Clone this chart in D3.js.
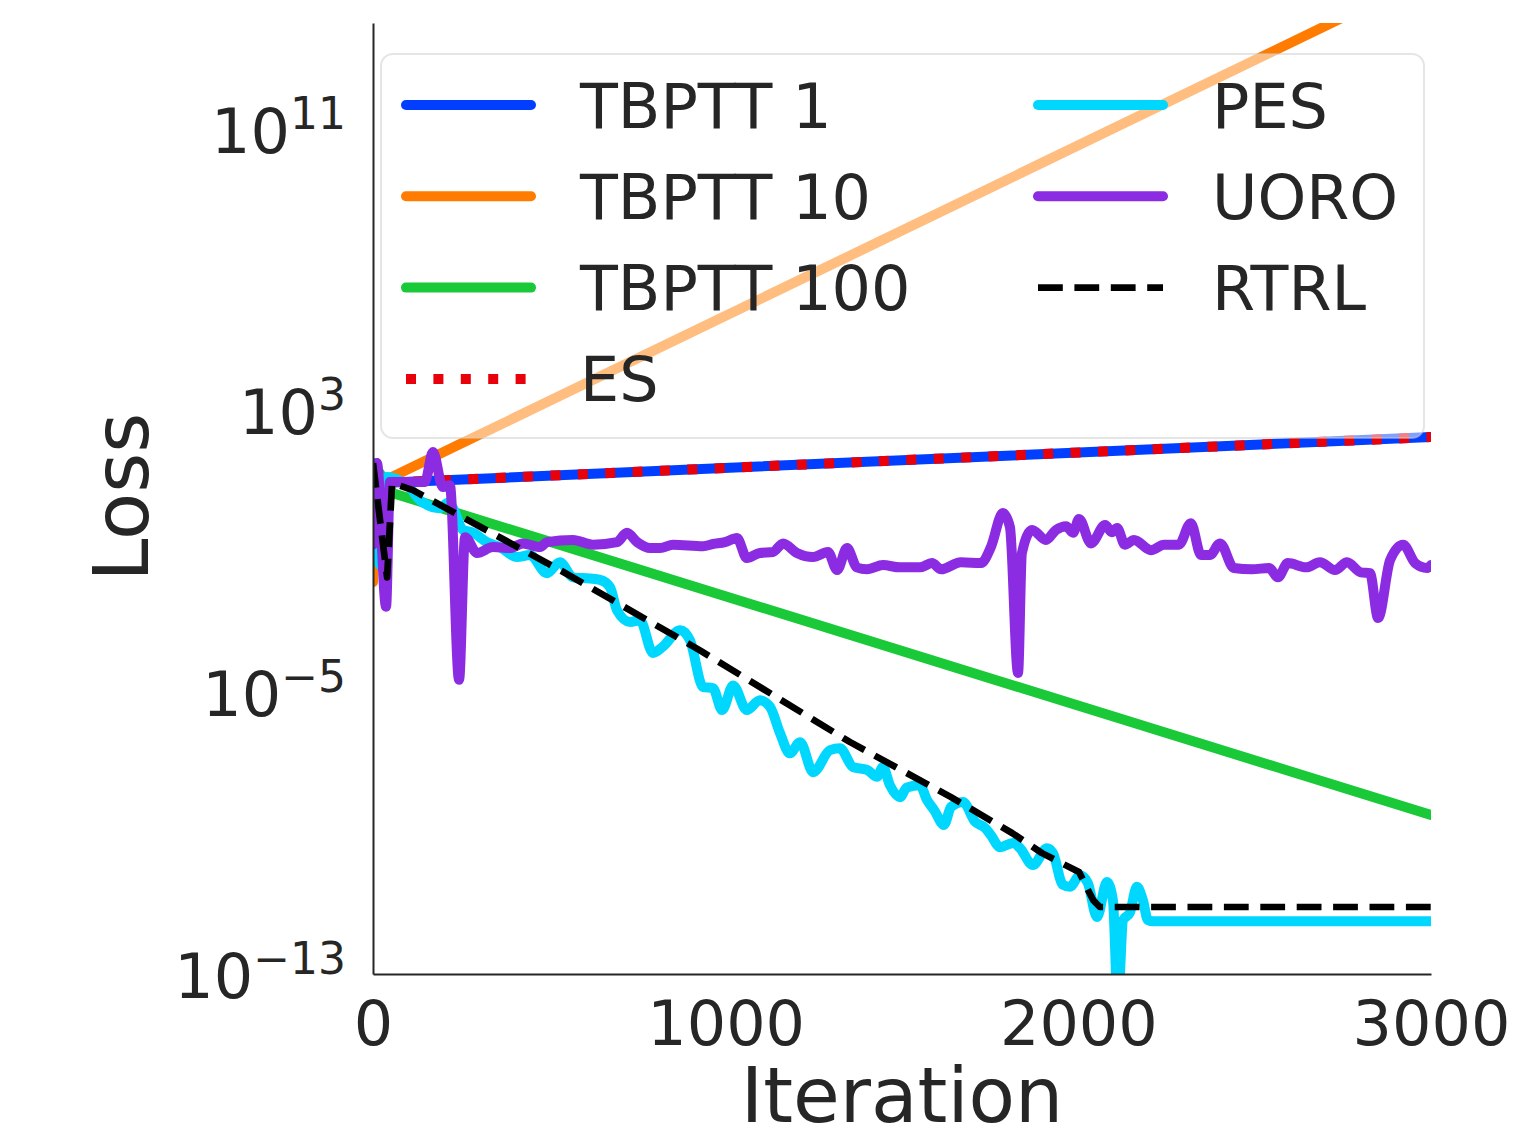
<!DOCTYPE html>
<html><head><meta charset="utf-8">
<script src="https://cdn.jsdelivr.net/npm/d3@7"></script>
<style>body{margin:0;background:#fff}svg{display:block}</style>
</head><body>
<svg id="chart" width="1530" height="1139"></svg>
<script>
// ---------- data: [iteration, loss] ----------
const seriesNames = ["TBPTT 1","TBPTT 10","TBPTT 100","ES","PES","UORO","RTRL"];
const tbptt1 = [[0,23],[20,6.2],[3000,126]];
const tbptt10 = [[0,9.5e-3],[8,23],[20,6.3],[241,74.5],[3000,1.7e15]];
const tbptt100 = [[0,23],[57,3.2],[3000,2.3e-9]];
const es = [[0,23],[20,6.2],[3000,126]];
const pes = [[0,23],[20,2.9e-2],[40,9.2],[57,8.6],[105,4.5],[133,2.0],[190,1.2],[213,1.7],[227,1.2],[255,0.29],[284,0.24],[323,0.13],[360,9.4e-2],[408,4.9e-2],[445,5.6e-2],[493,1.7e-2],[530,3.5e-2],[567,1.3e-2],[615,1.2e-2],[644,1.1e-2],[672,6.9e-3],[692,1.5e-3],[729,7.0e-4],[757,7.9e-4],[794,9.2e-5],[822,1.4e-4],[871,4.1e-4],[899,2.1e-4],[936,9.9e-6],[964,9.3e-6],[990,2.2e-6],[1021,1.1e-5],[1060,2.2e-6],[1097,4.2e-6],[1126,2.7e-6],[1154,4.9e-7],[1182,1.3e-7],[1211,2.7e-7],[1248,3.8e-8],[1296,1.6e-7],[1324,1.8e-7],[1361,5.3e-8],[1401,4.4e-8],[1429,2.8e-8],[1446,5.3e-8],[1466,1.6e-8],[1494,7.4e-9],[1514,1.4e-8],[1551,1.6e-8],[1571,6.1e-9],[1591,3.2e-9],[1619,1.2e-9],[1639,3.9e-9],[1673,5.4e-9],[1707,1.5e-9],[1735,1.0e-9],[1752,6.2e-10],[1778,2.8e-10],[1815,3.7e-10],[1835,2.6e-10],[1871,8.7e-11],[1911,2.6e-10],[1928,1.9e-10],[1956,2.4e-11],[1976,2.1e-11],[2005,4.5e-11],[2027,2.7e-11],[2053,2.9e-12],[2081,2.9e-11],[2098,8.8e-12],[2112,1e-14],[2127,2.4e-12],[2146,3.8e-12],[2166,2.1e-11],[2183,8.8e-12],[2197,2.4e-12],[2212,2.2e-12],[3000,2.2e-12]];
const uoro = [[0,0.11],[11,23],[37,1.9e-3],[48,6.6],[147,6.6],[170,47],[198,4.8],[218,5.4],[244,1.6e-5],[261,0.18],[295,6.4e-2],[340,9.4e-2],[388,8.8e-2],[425,0.12],[474,9.4e-2],[493,0.13],[567,0.15],[624,0.11],[692,0.13],[720,0.24],[749,0.13],[786,8.8e-2],[814,8.8e-2],[851,0.11],[936,0.10],[964,0.115],[998,0.13],[1032,0.17],[1060,4.6e-2],[1097,6.4e-2],[1134,6.8e-2],[1163,0.12],[1202,6.4e-2],[1248,4.9e-2],[1290,6.8e-2],[1316,2.1e-2],[1344,8.8e-2],[1372,2.5e-2],[1401,2.2e-2],[1446,2.9e-2],[1494,2.5e-2],[1551,2.5e-2],[1585,3.3e-2],[1611,2.2e-2],[1667,3.5e-2],[1724,3.3e-2],[1752,9.4e-2],[1786,0.87],[1806,0.35],[1829,2.5e-5],[1840,6.4e-2],[1869,0.29],[1908,0.15],[1937,0.29],[1965,0.37],[1985,0.24],[2002,0.59],[2036,0.12],[2076,0.40],[2095,0.25],[2110,0.33],[2132,0.11],[2158,0.15],[2206,7.7e-2],[2243,0.11],[2285,0.11],[2319,0.45],[2348,5.6e-2],[2373,5.6e-2],[2402,0.12],[2441,2.4e-2],[2492,2.2e-2],[2541,2.4e-2],[2566,1.3e-2],[2594,3.3e-2],[2646,2.5e-2],[2685,3.5e-2],[2728,2.1e-2],[2762,3.5e-2],[2801,1.8e-2],[2827,1.7e-2],[2850,9.1e-4],[2884,4.0e-2],[2921,0.11],[2955,3.3e-2],[2989,2.4e-2],[3000,2.9e-2]];
const rtrl = [[0,23],[40,1.3e-2],[54,6.2],[113,3.9],[530,2.1e-2],[927,1.1e-4],[1353,2.7e-7],[1639,7.4e-9],[1812,7.1e-10],[1897,1.9e-10],[2002,5.5e-11],[2042,8.8e-12],[2061,5.6e-12],[3000,5.6e-12]];
const xTicks = [0,1000,2000,3000];
const yTicks = [1e-13,1e-5,1e3,1e11];
const yTickExponents = ["\u221213","\u22125","3","11"];
const xLabel = "Iteration", yLabel = "Loss";

// ---------- styles ----------
const seriesData = [tbptt1,tbptt10,tbptt100,es,pes,uoro,rtrl];
const styles = [
  {color:"#023eff", width:10, dash:null, curve:d3.curveLinear},
  {color:"#ff7c00", width:10, dash:null, curve:d3.curveLinear},
  {color:"#1ac938", width:10, dash:null, curve:d3.curveLinear},
  {color:"#e8000b", width:10, dash:"10,17.4", curve:d3.curveLinear},
  {color:"#00d7ff", width:10, dash:null, curve:d3.curveMonotoneX},
  {color:"#8b2be2", width:10, dash:null, curve:d3.curveMonotoneX},
  {color:"#000000", width:6.7, dash:"24.8,11.6", curve:d3.curveLinear}
];
const FONT = "DejaVu Sans";
const TXT = "#262626";
const L = 373, R = 1431, T = 23, B = 974;

const svg = d3.select("#chart");
const x = d3.scaleLinear().domain([0,3000]).range([L,R]);
const y = d3.scaleLog().domain([7.0e-14,7.3e13]).range([B,T]);

svg.append("defs").append("clipPath").attr("id","clip")
  .append("rect").attr("x",L).attr("y",T).attr("width",R-L).attr("height",B-T);

const gLines = svg.append("g").attr("clip-path","url(#clip)");
seriesData.forEach((data,i)=>{
  const s = styles[i];
  const line = d3.line().x(d=>x(d[0])).y(d=>y(d[1])).curve(s.curve);
  gLines.append("path").attr("d",line(data)).attr("fill","none")
    .attr("stroke",s.color).attr("stroke-width",s.width)
    .attr("stroke-linecap", s.dash ? "butt" : "round")
    .attr("stroke-linejoin","round")
    .attr("stroke-dasharray", s.dash);
});

// x axis
const gx = svg.append("g").attr("transform",`translate(0,${B})`)
  .call(d3.axisBottom(x).tickValues(xTicks).tickSize(0).tickSizeOuter(0).tickFormat(d3.format("d")))
  .attr("font-family",FONT).attr("font-size",62);
gx.select(".domain").attr("stroke",TXT).attr("stroke-width",2);
gx.selectAll(".tick text").attr("fill",TXT).attr("y",71).attr("dy",null);

// y axis
const gy = svg.append("g").attr("transform",`translate(${L},0)`)
  .call(d3.axisLeft(y).tickValues(yTicks).tickSize(0).tickSizeOuter(0))
  .attr("font-family",FONT).attr("font-size",62);
gy.select(".domain").attr("stroke",TXT).attr("stroke-width",2);
gy.selectAll(".tick text").each(function(d,i){
  const t = d3.select(this);
  t.text(null).attr("x",-27).attr("y",28.5).attr("dy",null)
   .attr("text-anchor","end").attr("fill",TXT);
  t.append("tspan").text("10");
  t.append("tspan").attr("font-size",44).attr("dy",-24).text(yTickExponents[i]);
});

// axis labels
svg.append("text").attr("x",(L+R)/2).attr("y",1122).attr("text-anchor","middle")
  .attr("font-family",FONT).attr("font-size",76).attr("fill",TXT).text(xLabel);
svg.append("text").attr("transform",`translate(148,497) rotate(-90)`).attr("text-anchor","middle")
  .attr("font-family",FONT).attr("font-size",77).attr("fill",TXT).text(yLabel);

// legend
const gLeg = svg.append("g");
gLeg.append("rect").attr("x",381).attr("y",54).attr("width",1043).attr("height",384)
  .attr("rx",12).attr("fill","#fff").attr("fill-opacity",0.5)
  .attr("stroke","#cccccc").attr("stroke-opacity",0.5).attr("stroke-width",2);
const colHandle = [406,1038], colText = [580,1212];
seriesNames.forEach((name,i)=>{
  const col = i<4 ? 0 : 1, row = i<4 ? i : i-4;
  const cy = 105 + row*91.3;
  const s = styles[i];
  gLeg.append("line").attr("x1",colHandle[col]).attr("x2",colHandle[col]+125)
    .attr("y1",cy).attr("y2",cy).attr("stroke",s.color).attr("stroke-width",s.width)
    .attr("stroke-linecap", s.dash ? "butt" : "round").attr("stroke-dasharray",s.dash);
  gLeg.append("text").attr("x",colText[col]).attr("y",cy+22.5)
    .attr("font-family",FONT).attr("font-size",62).attr("fill",TXT).text(name);
});
</script>
</body></html>
